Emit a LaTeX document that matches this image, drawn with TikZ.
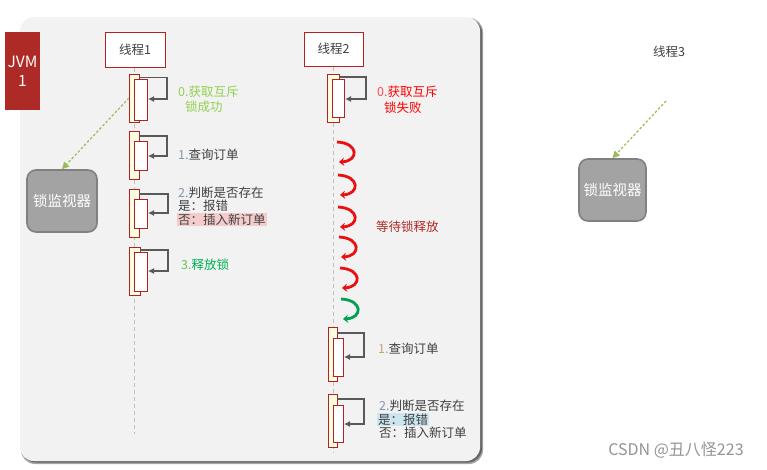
\documentclass[tikz,border=0pt]{standalone}
\usepackage{fontspec}
\setmainfont{Noto Sans CJK SC}
\usetikzlibrary{arrows.meta}
\definecolor{jvmred}{HTML}{AD2A26}
\definecolor{barred}{HTML}{B22222}
\definecolor{baryel}{HTML}{FFFDE0}
\definecolor{panel}{HTML}{F2F2F2}
\definecolor{txt}{HTML}{404040}
\definecolor{lgreen}{HTML}{92D050}
\definecolor{dgreen}{HTML}{00B050}
\definecolor{waitred}{HTML}{B02828}
\definecolor{pinkhl}{HTML}{F4CCCC}
\definecolor{bluehl}{HTML}{CCE6F0}
\definecolor{dashgreen}{HTML}{9BBB59}
\definecolor{numblue}{HTML}{8497B0}
\definecolor{numtan}{HTML}{C4A26E}
\definecolor{arrowred}{HTML}{E81010}
\definecolor{arrowgreen}{HTML}{00A050}
\definecolor{selfgray}{HTML}{595959}
\tikzset{
  fs12/.style={font=\fontsize{12.5}{14}\selectfont},
  threadbox/.style={draw=barred, fill=white, line width=1pt, fs12, text=txt, inner sep=0pt},
  outerbar/.style={draw=barred, fill=baryel, line width=1pt, anchor=north west, inner sep=0pt},
  innerbar/.style={draw=barred, fill=white, line width=1pt, anchor=north west, inner sep=0pt},
  lifeline/.style={draw=black!25, line width=0.9pt, dash pattern=on 4pt off 3pt},
  selfarrow/.style={draw=selfgray, line width=1.1pt, -{Latex[length=6pt,width=6pt]}},
  lbl/.style={fs12, text=txt, anchor=west, inner sep=0pt},
  monitor/.style={draw=black!50, fill=black!36, line width=1.6pt, rounded corners=9pt, text=white,
    font=\fontsize{14.5}{16}\selectfont, inner sep=0pt},
  lockarrow/.style={draw=dashgreen, line width=1.2pt, dash pattern=on 2.5pt off 2pt, -{Triangle[length=7pt,width=7pt]}},
  waitarrow/.style={line width=2.8pt, -{Stealth[length=5pt,width=8pt,inset=1.5pt]}}
}
\newcommand\waitcurve[3]{%
  \draw[waitarrow, #3] (#1,#2) .. controls (#1+22,#2+1) and (#1+22,#2+19) .. (#1+2,#2+20);}
\begin{document}
\begin{tikzpicture}[x=1pt,y=-1pt]
\useasboundingbox (0,0) rectangle (767,469);
\fill[white] (0,0) rectangle (767,469);
% panel with shadow
\fill[black!35, rounded corners=14pt] (21,18) rectangle (483,464);
\fill[black!60, rounded corners=14pt] (22,19) rectangle (482,462.5);
\fill[panel, rounded corners=14pt] (20,17) rectangle (480,461);

% JVM box
\node[fill=jvmred, text=white, minimum width=35pt, minimum height=78pt, inner sep=0pt,
  align=center, font=\fontsize{15.5}{19}\selectfont] (jvm) at (22.5,71) {JVM\\1};

% thread boxes
\node[threadbox, minimum width=60pt, minimum height=35pt] (t1) at (135,49.5) {线程1};
\node[threadbox, minimum width=59pt, minimum height=34pt] (t2) at (333.5,49) {线程2};
\node[fs12, text=txt, inner sep=0pt] (t3) at (669,52) {线程3};

% lifelines
\coordinate (l1end) at (134,434);
\coordinate (l2end) at (333,452);
\draw[lifeline] (t1.south -| l1end) -- (l1end);
\draw[lifeline] (t2.south -| l2end) -- (l2end);

% ---- thread 1 activation bars
\node[outerbar, minimum width=10pt, minimum height=48pt] (a1o) at (129,74) {};
\node[innerbar, minimum width=13pt, minimum height=41pt] (a1i) at (134,79) {};
\coordinate (a1s) at (139,77.5); \coordinate (a1c) at (167,99);
\draw[selfarrow] (a1s) -| (a1c) -- (a1c -| a1i.east);

\node[outerbar, minimum width=10pt, minimum height=48pt] (a2o) at (129,131) {};
\node[innerbar, minimum width=13pt, minimum height=29pt] (a2i) at (134,141) {};
\coordinate (a2s) at (139,136); \coordinate (a2c) at (167,156);
\draw[selfarrow] (a2s) -| (a2c) -- (a2c -| a2i.east);

\node[outerbar, minimum width=10pt, minimum height=48pt] (a3o) at (129,189) {};
\node[innerbar, minimum width=13pt, minimum height=29pt] (a3i) at (134,199) {};
\coordinate (a3s) at (139,194); \coordinate (a3c) at (168,213);
\draw[selfarrow] (a3s) -| (a3c) -- (a3c -| a3i.east);

\node[outerbar, minimum width=11pt, minimum height=48pt] (a4o) at (129,247) {};
\node[innerbar, minimum width=13pt, minimum height=39pt] (a4i) at (134,252) {};
\coordinate (a4s) at (140,250); \coordinate (a4c) at (168,271);
\draw[selfarrow] (a4s) -| (a4c) -- (a4c -| a4i.east);

% thread 1 labels
\node[lbl, text=lgreen] (s0a) at (178,92) {0.获取互斥};
\node[lbl, text=lgreen] (s0b) at (185,107) {锁成功};
\node[lbl] (s1) at (178,155) {\textcolor{numblue}{1.}查询订单};
\node[lbl] (s2a) at (178,192.5) {\textcolor{numblue}{2.}判断是否存在};
\node[lbl] (s2b) at (178,205.5) {是：报错};
\node[lbl, fill=pinkhl, inner xsep=1pt, inner ysep=0.5pt] (s2c) at (177,219.5) {否：插入新订单};
\node[lbl, text=dgreen] (s3) at (181,265) {\textcolor{lgreen!70!dgreen}{3.}释放锁};

% lock monitors
\node[monitor, minimum width=70pt, minimum height=62pt] (m1) at (62,201) {锁监视器};
\node[monitor, minimum width=67pt, minimum height=62pt] (m2) at (612.5,190) {锁监视器};
\coordinate (g1) at (129,98);
\coordinate (g3) at (666,101);
\draw[lockarrow] (g1) -- (m1.north);
\draw[lockarrow] (g3) -- (m2.north);

% ---- thread 2
\node[outerbar, minimum width=12pt, minimum height=48pt] (b1o) at (327,74) {};
\node[innerbar, minimum width=12pt, minimum height=38pt] (b1i) at (332,79) {};
\coordinate (b1s) at (339,77); \coordinate (b1c) at (366,99);
\draw[selfarrow] (b1s) -| (b1c) -- (b1c -| b1i.east);

\node[lbl, text=red] (r0a) at (377,92) {\textcolor{red!60!pink}{0.}获取互斥};
\node[lbl, text=red] (r0b) at (384,108) {锁失败};

% waiting arrows
\waitcurve{337}{142}{arrowred}
\waitcurve{338}{175}{arrowred}
\waitcurve{338}{207}{arrowred}
\waitcurve{339}{237}{arrowred}
\waitcurve{340}{268}{arrowred}
\waitcurve{341}{299}{arrowgreen}
\node[lbl, text=waitred] (wait) at (376,227) {等待锁释放};

\node[outerbar, minimum width=9pt, minimum height=54pt] (b2o) at (328,327) {};
\node[innerbar, minimum width=10pt, minimum height=38pt] (b2i) at (333,338) {};
\coordinate (b2s) at (337,333); \coordinate (b2c) at (364,357);
\draw[selfarrow] (b2s) -| (b2c) -- (b2c -| b2i.east);

\node[outerbar, minimum width=9pt, minimum height=53pt] (b3o) at (328,394) {};
\node[innerbar, minimum width=10pt, minimum height=37pt] (b3i) at (333,405) {};
\coordinate (b3s) at (337,399); \coordinate (b3c) at (364,424);
\draw[selfarrow] (b3s) -| (b3c) -- (b3c -| b3i.east);

\node[lbl] (q1) at (378,349) {\textcolor{numtan}{1.}查询订单};
\node[lbl] (q2a) at (379,406) {\textcolor{numblue}{2.}判断是否存在};
\node[lbl, fill=bluehl, inner xsep=1pt, inner ysep=0.5pt] (q2b) at (377,419.5) {是：报错\hspace{12pt}};
\node[lbl] (q2c) at (379,433) {否：插入新订单};

% watermark
\node[text=black!42, font=\fontsize{16}{18}\selectfont, inner sep=0pt] (wm) at (676,450) {CSDN @丑八怪223};
\end{tikzpicture}
\end{document}
